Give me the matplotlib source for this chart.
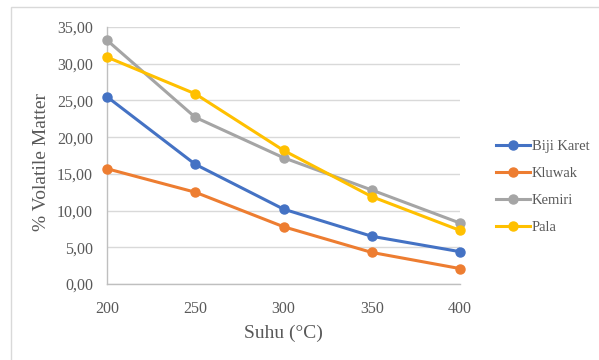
import matplotlib
matplotlib.use("Agg")
import matplotlib.pyplot as plt
from matplotlib.patches import Rectangle
from matplotlib.ticker import FuncFormatter

plt.rcParams['font.family'] = ['Liberation Serif', 'DejaVu Serif']

# data
suhu = [200, 250, 300, 350, 400]
biji_karet = [25.5, 16.3, 10.2, 6.5, 4.4]
kluwak = [15.7, 12.5, 7.8, 4.3, 2.1]
kemiri = [33.2, 22.7, 17.2, 12.8, 8.3]
pala = [30.9, 25.9, 18.2, 11.9, 7.3]

series = [
    ('Biji Karet', biji_karet, '#4472C4'),
    ('Kluwak', kluwak, '#ED7D31'),
    ('Kemiri', kemiri, '#A5A5A5'),
    ('Pala', pala, '#FFC000'),
]

txt = '#595959'
grid = '#D9D9D9'

fig = plt.figure(figsize=(5.99, 3.6), dpi=100)
ax = fig.add_axes([107 / 599, 1 - 284 / 360, (460 - 107) / 599, (284 - 27) / 360])

# chart border
fig.patches.append(Rectangle((11 / 599, -0.05), 1.0, 1 - 7 / 360 + 0.05,
                             transform=fig.transFigure, fill=False,
                             edgecolor='#D9D9D9', linewidth=1.0))

for name, vals, col in series:
    ax.plot(suhu, vals, color=col, linewidth=2.2, marker='o', markersize=6.5,
            label=name, clip_on=False, zorder=3)

ax.set_xlim(200, 400)
ax.set_ylim(0, 35)
ax.set_xticks(suhu)
ax.set_yticks(range(0, 36, 5))
ax.yaxis.set_major_formatter(FuncFormatter(lambda v, p: f'{v:.2f}'.replace('.', ',')))
ax.grid(axis='y', color=grid, linewidth=1.0)
ax.set_axisbelow(True)

for s in ['top', 'right']:
    ax.spines[s].set_visible(False)
for s in ['left', 'bottom']:
    ax.spines[s].set_color('#BFBFBF')
    ax.spines[s].set_linewidth(1.0)

ax.tick_params(axis='both', length=0, colors=txt, labelsize=11.5)
ax.tick_params(axis='x', pad=12)
ax.tick_params(axis='y', pad=10)

ax.set_xlabel('Suhu (°C)', color=txt, fontsize=14, labelpad=6)
ax.set_ylabel('% Volatile Matter', color=txt, fontsize=14)
ax.yaxis.set_label_coords(-0.162, 0.475)

leg = ax.legend(loc='center left', bbox_to_anchor=(496 / 599, 1 - 187 / 360),
                bbox_transform=fig.transFigure, borderaxespad=0, borderpad=0,
                frameon=False, fontsize=10.5, handlelength=2.3,
                handletextpad=0.15, labelspacing=0.95, labelcolor=txt)

fig.savefig('out.png', dpi=100)
